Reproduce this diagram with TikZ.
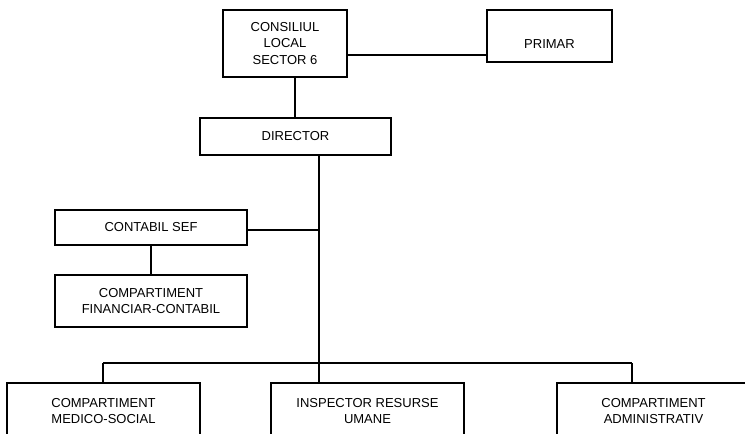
\documentclass[tikz,border=0pt]{standalone}
\usepackage{fontspec}
\setmainfont{Liberation Sans}
\begin{document}
\begin{tikzpicture}[x=1pt,y=-1pt,
  box/.style={draw=black, line width=1.6pt, rectangle, inner sep=0pt, align=center,
    font=\fontsize{13}{16.5}\selectfont},
  link/.style={draw=black, line width=1.6pt}]
\useasboundingbox (0,0) rectangle (745,434);
\clip (0,0) rectangle (745,434);
% boxes
\node[box, minimum width=124, minimum height=67] (cons) at (285,43.5) {CONSILIUL\\LOCAL\\SECTOR 6};
\node[box, minimum width=125, minimum height=52] (primar) at (549.5,36) {\raisebox{-12.5pt}[0pt][0pt]{PRIMAR}};
\node[box, minimum width=191, minimum height=37] (dir) at (295.5,136.5) {DIRECTOR};
\node[box, minimum width=192, minimum height=35] (contabil) at (151,227.5) {CONTABIL SEF};
\node[box, minimum width=192, minimum height=52] (fin) at (151,301) {COMPARTIMENT\\FINANCIAR-CONTABIL};
\node[box, minimum width=193, minimum height=56] (b1) at (103.5,411) {COMPARTIMENT\\MEDICO-SOCIAL};
\node[box, minimum width=193, minimum height=56] (b2) at (367.5,411) {INSPECTOR RESURSE\\UMANE};
\node[box, minimum width=193, minimum height=56] (b3) at (653.5,411) {COMPARTIMENT\\ADMINISTRATIV};
% connector helpers
\coordinate (mx) at (319,0);
\coordinate (busL) at (103,363);
\coordinate (busR) at (632,363);
% connectors
\draw[link] (cons.east |- 0,55) -- (primar.west |- 0,55);
\draw[link] (cons.south -| 295,0) -- (dir.north -| 295,0);
\draw[link] (dir.south -| mx) -- (b2.north -| mx);
\draw[link] (contabil.east |- 0,230) -- (mx |- 0,230);
\draw[link] (contabil.south) -- (fin.north);
\draw[link] (busL) -- (busR);
\draw[link] (busL) -- (b1.north -| busL);
\draw[link] (busR) -- (b3.north -| busR);
\end{tikzpicture}
\end{document}
